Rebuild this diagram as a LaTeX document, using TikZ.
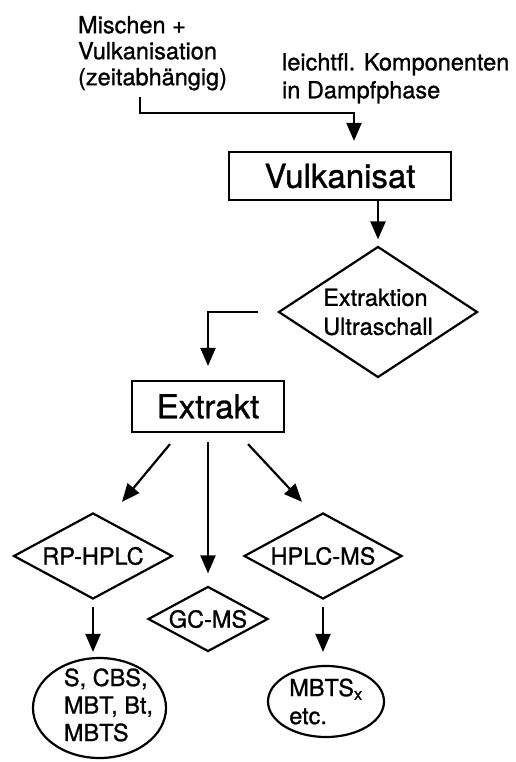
\documentclass[tikz,border=0pt]{standalone}
\usepackage{fontspec}
\setmainfont[FakeBold=1]{TeX Gyre Heros}
\usetikzlibrary{shapes.geometric,arrows.meta}
\begin{document}
\begin{tikzpicture}[x=1pt,y=-1pt,
  line width=2.2pt,
  arr/.style={-{Triangle[length=18pt,width=15pt]}},
  txt/.style={font=\fontsize{23.5}{28}\selectfont},
  bigbox/.style={draw, rectangle, inner sep=0pt, font=\fontsize{33}{33}\selectfont},
  dia/.style={draw, diamond, inner sep=0pt, aspect=1.85, txt},
  ell/.style={draw, ellipse, inner sep=0pt, txt}]
\useasboundingbox (0,0) rectangle (516,762);

\node[align=left, anchor=north west, inner sep=0pt, font=\fontsize{23.5}{26}\selectfont] (mix) at (77,15) {Mischen +\\Vulkanisation\\(zeitabhängig)};
\node[txt, align=left, anchor=north west, inner sep=0pt] (vap) at (281,52) {leichtfl. Komponenten\\in Dampfphase};
\node[bigbox, minimum width=222pt, minimum height=48pt] (vul) at (340,176) {Vulkanisat};
\node[dia, aspect=1.52, minimum width=199pt, minimum height=131pt, align=left, font=\fontsize{23.5}{29}\selectfont] (ext) at (378,312) {Extraktion\\Ultraschall};
\node[bigbox, minimum width=152pt, minimum height=51pt] (extr) at (208,406.5) {Extrakt};
\node[dia, minimum width=159pt, minimum height=86pt] (rp) at (93,556) {RP-HPLC};
\node[dia, minimum width=120pt, minimum height=65pt] (gc) at (208,619) {GC-MS};
\node[dia, minimum width=158pt, minimum height=86pt] (ms) at (323,556) {HPLC-MS};
\node[ell, minimum width=133pt, minimum height=100pt, inner xsep=-7.5pt, inner ysep=-6pt, font=\fontsize{23.5}{27.5}\selectfont] (r1) at (99.5,708) {\hspace*{18pt}\begin{tabular}{@{}l@{}}S, CBS,\\MBT, Bt,\\MBTS\end{tabular}};
\node[ell, minimum width=116pt, minimum height=71pt, align=left, font=\fontsize{23.5}{28}\selectfont] (r2) at (326,701.5) {MBTS\textsubscript{x}\\etc.};

\coordinate (c1) at (140,97);
\coordinate (c2) at (354,113);
\draw[arr] (c1) |- (c2) -- ([xshift=14pt,yshift=10pt]vul.north);
\draw[arr, shorten >=6pt] (vul.south -| ext.north) -- (ext.north);
\draw[arr] ([xshift=-19pt]ext.west) -| ([yshift=14pt]extr.north);
\draw[arr] ([xshift=-38pt,yshift=-11pt]extr.south) -- ([xshift=29pt,yshift=10pt]rp.north);
\draw[arr, shorten <=9pt, shorten >=12pt] (extr.south) -- (gc.north);
\draw[arr] ([xshift=40pt,yshift=-11pt]extr.south) -- ([xshift=-21pt,yshift=10pt]ms.north);
\draw[arr, shorten <=7pt, shorten >=5pt] (rp.south) -- (rp.south |- r1.north);
\draw[arr, shorten <=7pt, shorten >=13pt] (ms.south) -- (ms.south |- r2.north);
\end{tikzpicture}
\end{document}
